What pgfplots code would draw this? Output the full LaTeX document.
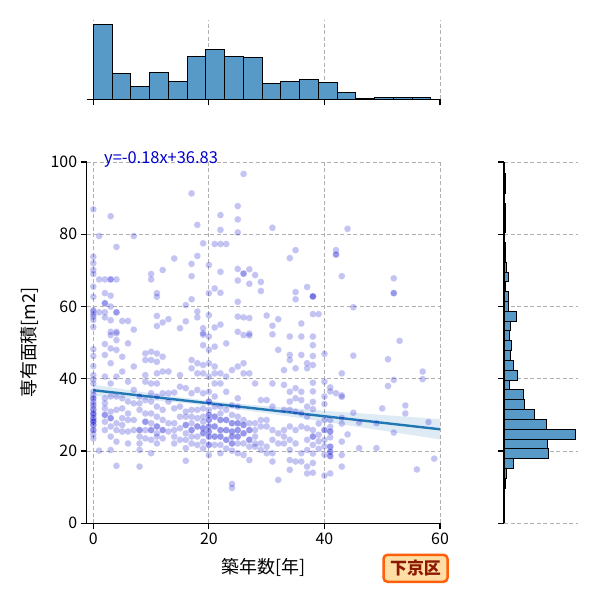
\documentclass[border=0pt]{standalone}
\usepackage{pgfplots}
\usepackage{pgfplotstable}
\pgfplotsset{compat=1.18}
\usepackage{fontspec}
\setmainfont{Noto Sans CJK JP}
\definecolor{mediumblue}{RGB}{0,0,205}
\definecolor{tabblue}{RGB}{31,119,180}
\definecolor{histblue}{RGB}{87,153,199}
\definecolor{gridgray}{RGB}{176,176,176}
\definecolor{boxedge}{RGB}{255,95,10}
\definecolor{boxfill}{RGB}{255,222,165}
\definecolor{boxtext}{RGB}{140,25,0}

\pgfplotstableread[row sep=\\]{
x y\\
0 86.9\\ 0 73.8\\ 0 72.0\\ 0 70.1\\ 0 69.0\\ 0 65.5\\ 0 62.7\\ 0 58.6\\ 0 57.2\\ 0 56.3\\ 0 54.3\\ 0 48.2\\ 0 46.3\\ 0 43.5\\ 0 41.0\\ 0 39.8\\ 0 38.7\\ 0 35.5\\ 0 34.6\\ 0 33.7\\ 0 31.5\\ 0 30.4\\ 0 29.1\\ 0 28.1\\ 0 27.2\\ 0 25.8\\ 0 24.7\\ 0 23.5\\ 0 34.6\\ 0 31.5\\ 0 29.1\\ 0 27.2\\ 0 25.8\\ 0 33.0\\ 0 30.0\\ 0 28.5\\ 0 32.5\\ 0 36.5\\ 0 57.8\\ 0 59.0\\ 0 30.4\\ 0 28.1\\
1 79.5\\ 1 67.5\\ 1 58.4\\ 1 20.1\\
2 67.5\\ 2 63.7\\ 2 60.9\\ 2 60.9\\ 2 58.4\\ 2 57.0\\ 2 49.6\\ 2 46.6\\ 2 40.6\\ 2 34.6\\ 2 33.2\\ 2 31.8\\ 2 30.0\\ 2 28.1\\ 2 25.8\\ 2 30.0\\
3 85.0\\ 3 67.5\\ 3 67.5\\ 3 63.0\\ 3 60.0\\ 3 56.2\\ 3 53.0\\ 3 52.1\\ 3 48.4\\ 3 44.3\\ 3 38.7\\ 3 35.1\\ 3 30.9\\ 3 29.1\\ 3 26.8\\ 3 24.0\\ 3 20.3\\ 3 29.1\\
4 76.5\\ 4 67.5\\ 4 58.4\\ 4 58.4\\ 4 53.0\\ 4 52.6\\ 4 50.7\\ 4 48.0\\ 4 40.6\\ 4 35.1\\ 4 31.4\\ 4 27.7\\ 4 25.8\\ 4 22.6\\ 4 15.9\\
5 56.0\\ 5 46.1\\ 5 42.0\\ 5 34.6\\ 5 31.8\\ 5 29.1\\ 5 27.2\\ 5 25.4\\
6 56.0\\ 6 49.8\\ 6 39.2\\ 6 33.7\\ 6 30.4\\ 6 28.6\\ 6 25.4\\ 6 22.1\\
7 79.5\\ 7 53.6\\ 7 43.4\\ 7 36.9\\ 7 33.2\\ 7 28.6\\ 7 25.8\\
8 35.1\\ 8 33.2\\ 8 31.4\\ 8 25.8\\ 8 24.0\\ 8 22.1\\ 8 20.3\\ 8 15.7\\ 8 25.8\\
9 47.0\\ 9 45.2\\ 9 41.0\\ 9 39.2\\ 9 34.1\\ 9 30.4\\ 9 28.1\\ 9 25.8\\ 9 23.5\\ 9 28.1\\
10 69.0\\ 10 67.5\\ 10 47.5\\ 10 45.2\\ 10 38.7\\ 10 36.0\\ 10 33.7\\ 10 30.4\\ 10 27.7\\ 10 25.8\\ 10 23.1\\ 10 19.4\\ 10 25.8\\
11 63.7\\ 11 62.7\\ 11 57.4\\ 11 54.6\\ 11 47.0\\ 11 44.7\\ 11 41.5\\ 11 38.7\\ 11 35.1\\ 11 32.3\\ 11 29.5\\ 11 26.8\\ 11 24.9\\ 11 24.0\\ 11 22.1\\ 11 26.8\\
12 70.1\\ 12 55.6\\ 12 46.1\\ 12 42.0\\ 12 36.0\\ 12 31.4\\ 12 28.6\\ 12 25.8\\ 12 23.5\\ 12 25.8\\
13 56.5\\ 13 42.0\\ 13 36.0\\ 13 33.7\\ 13 27.7\\ 13 25.4\\
14 73.3\\ 14 36.2\\ 14 31.8\\ 14 27.7\\ 14 25.8\\ 14 24.0\\ 14 22.1\\
15 54.0\\ 15 41.0\\ 15 37.8\\ 15 32.3\\ 15 29.5\\ 15 26.3\\ 15 23.1\\
16 60.4\\ 16 55.9\\ 16 37.4\\ 16 30.9\\ 16 29.5\\ 16 27.2\\ 16 24.9\\ 16 23.1\\ 16 20.8\\ 16 17.3\\ 16 27.2\\
17 91.3\\ 17 71.8\\ 17 68.4\\ 17 62.0\\ 17 45.2\\ 17 42.9\\ 17 36.0\\ 17 31.4\\ 17 29.5\\ 17 27.7\\ 17 25.8\\ 17 24.0\\ 17 22.1\\ 17 25.8\\
18 82.6\\ 18 74.0\\ 18 58.6\\ 18 57.0\\ 18 44.3\\ 18 41.5\\ 18 36.9\\ 18 31.4\\ 18 29.1\\ 18 26.8\\ 18 24.0\\ 18 21.7\\ 18 26.8\\
19 77.5\\ 19 54.0\\ 19 52.2\\ 19 52.6\\ 19 49.3\\ 19 43.8\\ 19 41.5\\ 19 36.0\\ 19 31.8\\ 19 29.5\\ 19 28.1\\ 19 26.3\\ 19 24.9\\ 19 22.6\\ 19 20.7\\ 19 26.3\\ 19 24.9\\
20 71.5\\ 20 63.7\\ 20 57.6\\ 20 51.7\\ 20 48.0\\ 20 44.3\\ 20 40.6\\ 20 36.4\\ 20 33.7\\ 20 31.4\\ 20 30.0\\ 20 28.6\\ 20 26.8\\ 20 25.4\\ 20 24.0\\ 20 21.7\\ 20 18.9\\ 20 30.0\\ 20 28.6\\ 20 26.8\\ 20 25.4\\ 20 24.0\\ 20 21.7\\ 20 33.7\\
21 77.3\\ 21 65.0\\ 21 54.2\\ 21 48.9\\ 21 43.4\\ 21 41.5\\ 21 38.7\\ 21 35.1\\ 21 32.3\\ 21 29.5\\ 21 26.8\\ 21 24.0\\ 21 21.7\\ 21 29.5\\ 21 26.8\\ 21 24.0\\
22 85.3\\ 22 81.2\\ 22 77.3\\ 22 69.6\\ 22 63.8\\ 22 55.0\\ 22 41.5\\ 22 38.7\\ 22 32.3\\ 22 30.4\\ 22 28.6\\ 22 25.8\\ 22 24.0\\ 22 21.7\\ 22 19.4\\ 22 28.6\\ 22 25.8\\ 22 24.0\\
23 77.3\\ 23 49.8\\ 23 40.6\\ 23 36.4\\ 23 31.4\\ 23 28.6\\ 23 25.8\\ 23 23.1\\ 23 20.7\\ 23 28.6\\ 23 25.8\\ 23 23.1\\
24 42.4\\ 24 32.7\\ 24 30.0\\ 24 27.7\\ 24 25.4\\ 24 24.0\\ 24 22.1\\ 24 20.1\\ 24 10.9\\ 24 9.8\\ 24 27.7\\ 24 25.4\\ 24 24.0\\ 24 22.1\\
25 87.8\\ 25 84.1\\ 25 80.5\\ 25 70.4\\ 25 67.2\\ 25 61.3\\ 25 57.2\\ 25 53.0\\ 25 43.4\\ 25 34.6\\ 25 32.3\\ 25 29.5\\ 25 27.7\\ 25 25.8\\ 25 24.0\\ 25 22.1\\ 25 19.4\\ 25 27.7\\ 25 25.8\\ 25 24.0\\
26 96.7\\ 26 69.1\\ 26 69.1\\ 26 57.0\\ 26 52.1\\ 26 44.3\\ 26 41.5\\ 26 28.6\\ 26 27.2\\ 26 24.9\\ 26 22.1\\ 26 18.9\\ 26 27.2\\ 26 24.9\\
27 70.3\\ 27 66.3\\ 27 56.8\\ 27 52.5\\ 27 52.0\\ 27 41.5\\ 27 27.7\\ 27 25.8\\ 27 23.1\\ 27 21.2\\ 27 17.5\\ 27 25.8\\ 27 23.1\\
28 68.7\\ 28 38.7\\ 28 27.7\\ 28 25.8\\ 28 24.0\\ 28 22.1\\ 28 21.2\\
29 66.8\\ 29 64.3\\ 29 34.1\\ 29 28.6\\ 29 26.8\\ 29 22.1\\ 29 20.3\\
30 57.5\\ 30 34.1\\ 30 28.6\\ 30 26.8\\ 30 21.2\\ 30 19.4\\
31 81.8\\ 31 54.7\\ 31 52.3\\ 31 38.7\\ 31 32.3\\ 31 25.8\\ 31 23.1\\ 31 19.4\\ 31 17.1\\
32 56.5\\ 32 48.0\\ 32 24.9\\ 32 22.1\\ 32 12.0\\
33 42.4\\ 33 38.3\\ 33 31.4\\ 33 25.8\\ 33 24.0\\ 33 22.1\\
34 73.4\\ 34 51.7\\ 34 46.6\\ 34 45.2\\ 34 36.4\\ 34 33.7\\ 34 31.4\\ 34 26.8\\ 34 23.1\\ 34 20.3\\ 34 17.5\\ 34 14.8\\
35 75.6\\ 35 64.0\\ 35 62.0\\ 35 42.9\\ 35 37.4\\ 35 34.6\\ 35 30.9\\ 35 25.8\\ 35 22.1\\ 35 17.1\\
36 55.3\\ 36 51.7\\ 36 46.6\\ 36 36.4\\ 36 34.1\\ 36 30.4\\ 36 26.8\\ 36 19.4\\ 36 17.1\\
37 65.4\\ 37 44.3\\ 37 42.9\\ 37 32.3\\ 37 29.5\\ 37 26.3\\ 37 23.1\\ 37 20.3\\ 37 15.7\\ 37 13.8\\
38 62.8\\ 38 62.8\\ 38 62.8\\ 38 57.9\\ 38 51.7\\ 38 49.3\\ 38 46.3\\ 38 43.8\\ 38 38.9\\ 38 36.5\\ 38 33.6\\ 38 31.6\\ 38 25.8\\ 38 24.0\\ 38 21.7\\ 38 19.3\\ 38 16.7\\ 38 14.0\\ 38 24.0\\
39 57.9\\ 39 27.6\\ 39 24.5\\ 39 22.7\\ 39 20.6\\
40 46.9\\ 40 39.2\\ 40 35.1\\ 40 33.0\\ 40 28.6\\ 40 25.8\\ 40 23.1\\ 40 21.3\\ 40 19.0\\ 40 13.2\\ 40 25.8\\
41 37.6\\ 41 36.5\\ 41 28.6\\ 41 26.7\\ 41 25.4\\ 41 23.8\\ 41 21.2\\ 41 19.8\\ 41 18.6\\ 41 13.8\\ 41 21.2\\ 41 19.8\\ 41 18.6\\ 41 25.4\\
42 75.6\\ 42 74.4\\ 42 74.4\\ 42 36.0\\
43 68.4\\ 43 41.5\\ 43 35.4\\ 43 35.0\\ 43 29.2\\ 43 27.6\\ 43 22.6\\ 43 18.9\\ 43 15.7\\
44 81.5\\ 44 24.6\\
45 59.8\\ 45 46.4\\ 45 30.6\\
46 27.9\\ 46 20.8\\
49 27.7\\ 49 20.8\\
50 31.8\\
51 45.4\\ 51 38.0\\
52 67.8\\ 52 63.7\\ 52 63.7\\ 52 39.7\\ 52 25.1\\
53 50.5\\
54 32.6\\ 54 30.4\\
56 14.9\\
57 42.0\\ 57 39.9\\
58 28.0\\
59 17.9\\
}\scatterdata

\pgfplotsset{
  jbase/.style={
    scale only axis,
    axis line style={-, line width=1.2bp, black},
    tick style={line width=1.2bp, black},
    major tick length=6bp,
    tick align=outside,
    grid style={gridgray, line width=0.8bp, dash pattern=on 4bp off 2.5bp},
    tick label style={font=\fontsize{16}{16}\selectfont},
    /pgf/number format/assume math mode=true,
  }
}

\begin{document}
\begin{tikzpicture}
\useasboundingbox (0,0) rectangle (600bp,600bp);

% main scatter axis
\begin{axis}[jbase,
  at={(86.7bp,76.7bp)}, anchor=south west,
  width=353.3bp, height=361.3bp,
  xmin=-1.15, xmax=60, ymin=0, ymax=100,
  axis x line*=bottom, axis y line*=left,
  xtick={0,20,40,60}, ytick={0,20,40,60,80,100},
  grid=major,
  xlabel={築年数[年]}, ylabel={専有面積[m2]},
  label style={font=\fontsize{18}{18}\selectfont},
  xlabel style={yshift=-7bp},
  ylabel style={yshift=5bp},
  clip=false,
]
\addplot[only marks, mark=*, mark size=3.4bp,
  mark options={fill=mediumblue, draw=white, line width=0.4bp, opacity=0.23}]
  table[x=x, y=y] {\scatterdata};
\addplot[fill=tabblue, fill opacity=0.15, draw=none] coordinates {
  (0,38.36) (5,37.16) (10,36.00) (15,34.91) (20,33.93) (25,33.11) (30,32.40)
  (35,31.76) (40,31.16) (45,30.57) (50,29.99) (55,29.41) (60,28.83)
  (60,23.23) (55,24.45) (50,25.67) (45,26.89) (40,28.10) (35,29.30) (30,30.46)
  (25,31.55) (20,32.53) (15,33.35) (10,34.06) (5,34.70) (0,35.30)
} -- cycle;
\addplot[tabblue, line width=2.4bp] coordinates {(0,36.83) (60,26.03)};
\node[anchor=west, text=mediumblue, font=\fontsize{16.5}{16.5}\selectfont, inner sep=0pt]
  at (axis cs:1.85,100.6) {y=-0.18x+36.83};
\end{axis}

% top marginal histogram
\begin{axis}[jbase,
  at={(86.7bp,500.7bp)}, anchor=south west,
  width=353.3bp, height=79.3bp,
  xmin=-1.15, xmax=60, ymin=0, ymax=95.5,
  axis x line*=bottom, axis y line=none,
  xtick={0,20,40,60}, xticklabels={}, ytick=\empty,
  xmajorgrids,
]
\addplot[ybar interval, fill=histblue, draw=black, line width=0.9bp] coordinates {
  (0,90) (3.244,31) (6.489,15) (9.733,32) (12.978,21) (16.222,51) (19.467,60)
  (22.711,52) (25.956,50) (29.2,19) (32.444,22) (35.689,24) (38.933,20)
  (42.178,8) (45.422,1) (48.667,2) (51.911,2) (55.156,2) (58.4,0)
};
\end{axis}

% right marginal histogram
\begin{axis}[jbase,
  at={(504bp,76.7bp)}, anchor=south west,
  width=74bp, height=361.3bp,
  xmin=0, xmax=70, ymin=0, ymax=100,
  axis y line*=left, axis x line=none,
  ytick={0,20,40,60,80,100}, yticklabels={}, xtick=\empty,
  ymajorgrids,
]
\addplot[xbar interval, fill=histblue, draw=black, line width=0.9bp] coordinates {
  (1,9.72) (2,12.44) (9,15.16) (42,17.88) (41,20.60) (68,23.32) (40,26.04)
  (29,28.76) (19,31.48) (18,34.20) (5,36.92) (13,39.64) (9,42.36) (6,45.08)
  (7,47.80) (5,50.52) (6,53.24) (12,55.96) (4,58.68) (4,61.40) (1,64.12)
  (4,66.84) (2,69.56) (1,72.28) (1,75.00) (0,77.72) (1,80.44) (1,83.16)
  (1,85.88) (0,88.60) (1,91.32) (1,94.04) (0,96.76)
};
\end{axis}

\node[draw=boxedge, line width=2.5bp, fill=boxfill, rounded corners=4bp,
  text=boxtext, font=\bfseries\fontsize{17}{17}\selectfont,
  minimum width=64bp, minimum height=27bp, inner sep=2bp]
  at (415.5bp,31.7bp) {下京区};
\end{tikzpicture}
\end{document}
